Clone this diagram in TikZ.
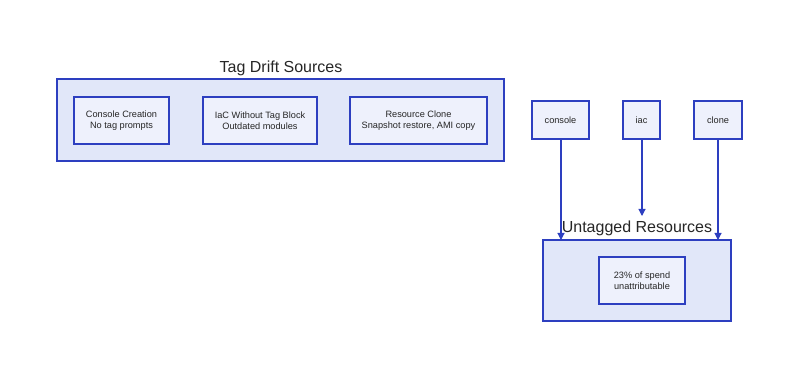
\documentclass[tikz,border=0pt]{standalone}
\usepackage{fontspec}
\setmainfont{Liberation Sans}
\usetikzlibrary{arrows.meta}
\definecolor{edge}{HTML}{2D3FC0}
\definecolor{clusterfill}{HTML}{E1E7F9}
\definecolor{boxfill}{HTML}{EEF1FC}
\begin{document}
\begin{tikzpicture}[x=1pt,y=-1pt,
  cluster/.style={draw=edge,fill=clusterfill,line width=1.1pt},
  inbox/.style={draw=edge,fill=boxfill,line width=1.1pt,align=center,font=\fontsize{9.2}{11}\selectfont,text=black!85},
  title/.style={font=\fontsize{16}{18}\selectfont,text=black!85},
  arr/.style={draw=edge,line width=1.1pt,-{Triangle[width=7pt,length=7pt]}}]
\useasboundingbox (0,0) rectangle (800,379);
% Tag Drift Sources cluster
\draw[cluster] (57,79) rectangle (504,161);
\node[title] (t1) at (281,68) {Tag Drift Sources};
\draw[inbox] (74,97) rectangle (169,144);
\node[inbox,draw=none,fill=none] (b1) at (121.5,120.5) {Console Creation\\No tag prompts};
\draw[inbox] (203,97) rectangle (317,144);
\node[inbox,draw=none,fill=none] (b2) at (260,120.5) {IaC Without Tag Block\\Outdated modules};
\draw[inbox] (350,97) rectangle (487,144);
\node[inbox,draw=none,fill=none] (b3) at (418.5,120.5) {Resource Clone\\Snapshot restore, AMI copy};
% Untagged cluster
\draw[cluster] (543,240) rectangle (731,321);
\node[title] (t2) at (637,228) {Untagged Resources};
\draw[inbox] (599,257) rectangle (685,304);
\node[inbox,draw=none,fill=none] (u) at (642,280.5) {23\% of spend\\unattributable};
% small nodes
\node[inbox,minimum width=57pt,minimum height=38pt,inner sep=0pt] (console) at (560.5,120) {console};
\node[inbox,minimum width=37pt,minimum height=38pt,inner sep=0pt] (iac) at (641.5,120) {iac};
\node[inbox,minimum width=48pt,minimum height=38pt,inner sep=0pt] (clone) at (718,120) {clone};
\coordinate (c1) at (561,240);
\coordinate (c2) at (642,216);
\coordinate (c3) at (718,240);
\draw[arr] (console.south -| c1) -- (c1);
\draw[arr] (iac.south -| c2) -- (c2);
\draw[arr] (clone.south -| c3) -- (c3);
\end{tikzpicture}
\end{document}
